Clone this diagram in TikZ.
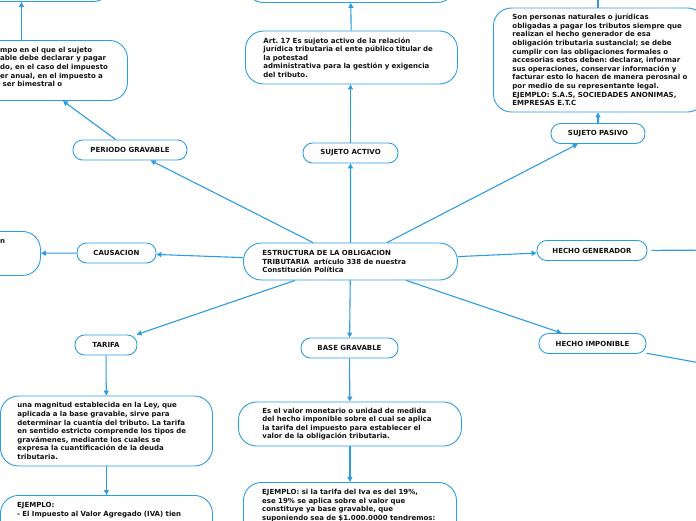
\documentclass[tikz,border=0pt]{standalone}
\usepackage{fontspec}
\setmainfont{DejaVu Sans}
\usetikzlibrary{arrows.meta}
\definecolor{lblue}{HTML}{2E9CE0}
\definecolor{ink}{HTML}{121212}
\newcommand\lsk[1]{\leftskip=#1pt\relax}
\frenchspacing
\begin{document}
\begin{tikzpicture}[x=1pt,y=-1pt,
  every node/.style={font=\fontsize{7}{8.6}\selectfont\bfseries\frenchspacing, text=ink},
  pill/.style={draw=lblue, line width=0.9pt, rounded corners=9.5pt, minimum height=20pt, inner sep=0pt},
  tbox/.style={draw=lblue, line width=0.9pt, rounded corners=18pt, align=left, inner xsep=0pt, inner ysep=0pt},
  ebox/.style={draw=lblue, line width=0.9pt, rounded corners=18pt, inner sep=0pt, anchor=north west},
  txt/.style={align=left, inner sep=0pt, anchor=base west, text width=200pt},
  conn/.style={draw=lblue, line width=1.1pt, -{Triangle[length=5pt,width=5pt]}},
  plain/.style={draw=lblue, line width=1.1pt},
]
\useasboundingbox (0,0) rectangle (696,520);
\clip (0,0) rectangle (696,520);

% central node
\node[tbox, text width=214pt, minimum height=37pt, anchor=west] (ctr) at (243,261.5)
  {\lsk{19}ESTRUCTURA DE LA OBLIGACION\\TRIBUTARIA\ \ artículo 338 de nuestra\\Constitución Política\par};

% labels
\node[pill, minimum width=114pt] (pg) at (130,150) {PERIODO GRAVABLE};
\node[pill, minimum width=95pt] (sa) at (350.5,153) {SUJETO ACTIVO};
\node[pill, minimum width=94pt] (sp) at (598,133.5) {SUJETO PASIVO};
\node[pill, minimum width=79pt] (caus) at (116.5,253) {CAUSACION};
\node[pill, minimum width=110pt] (hg) at (592,250.5) {HECHO GENERADOR};
\node[pill, minimum width=62pt] (tar) at (106,345) {TARIFA};
\node[pill, minimum width=97pt] (bg) at (349.5,348) {BASE GRAVABLE};
\node[pill, minimum width=107pt] (hi) at (592.5,343.5) {HECHO IMPONIBLE};

% text boxes
\node[tbox, text width=212pt, minimum height=53pt, anchor=west] (satx) at (245,57.5)
  {\lsk{18}Art. 17 Es sujeto activo de la relación\\jurídica tributaria el ente público titular de\\la potestad\\administrativa para la gestión y exigencia\\del tributo.\par};
\node[tbox, text width=212pt, minimum height=104pt, anchor=west] (sptx) at (493,60)
  {\lsk{19}Son personas naturales o jurídicas\\obligadas a pagar los tributos siempre que\\realizan el hecho generador de esa\\obligación tributaria sustancial; se debe\\cumplir con las obligaciones formales o\\accesorias estos deben: declarar, informar\\sus operaciones, conservar información y\\facturar esto lo hacen de manera perosnal o\\por medio de su representante legal.\\EJEMPLO: S.A.S, SOCIEDADES ANONIMAS,\\EMPRESAS E.T.C\par};
\node[tbox, text width=212pt, minimum height=70pt, anchor=west] (tartx) at (0,431)
  {\lsk{17}una magnitud establecida en la Ley, que\\aplicada a la base gravable, sirve para\\determinar la cuantía del tributo. La tarifa\\en sentido estricto comprende los tipos de\\gravámenes, mediante los cuales se\\expresa la cuantificación de la deuda\\tributaria.\par};
\node[tbox, text width=223pt, minimum height=44pt, anchor=west] (bgtx) at (238,424)
  {\lsk{24}Es el valor monetario o unidad de medida\\del hecho imponible sobre el cual se aplica\\la tarifa del impuesto para establecer el\\valor de la obligación tributaria.\par};

% partly visible boxes
\node[ebox, minimum width=212pt, minimum height=60pt] (pbox) at (-85,40) {};
\node[txt] (ptxt) at (0,52.3) {mpo en el que el sujeto\\able debe declarar y pagar\\do, en el caso del impuesto\\er anual, en el impuesto a\\\hspace*{2.5pt}ser bimestral o};
\node[ebox, minimum width=212pt, minimum height=44pt] (ctx) at (-172,231) {};
\node[txt] (ctxt) at (0,243.3) {n};
\node[ebox, minimum width=212pt, minimum height=80pt] (tarex) at (0,495) {};
\node[txt] (tarext) at (17,507.5) {EJEMPLO:\\- El Impuesto al Valor Agregado (IVA) tien};
\node[ebox, minimum width=213pt, minimum height=80pt] (bgex) at (243,482) {};
\node[txt] (bgext) at (262,494.5) {EJEMPLO: si la tarifa del Iva es del 19\%,\\ese 19\% se aplica sobre el valor que\\constituye ya base gravable, que\\suponiendo sea de \$1.000.0000 tendremos:};
\node[ebox, minimum width=180pt, minimum height=61pt] (tlbox) at (-69,-60) {};
\node[ebox, minimum width=210pt, minimum height=60pt] (tcbox) at (245,-58) {};
\node[ebox, minimum width=212pt, minimum height=62pt] (trbox) at (493,-70) {};
\coordinate (hgout) at (760,250);
\coordinate (hiout) at (800,381);

% connectors
\draw[conn] (ctr) -- (pg);
\draw[conn] (ctr) -- (sa);
\draw[conn] (ctr) -- (sp);
\draw[conn] (ctr) -- (caus);
\draw[conn] (ctr) -- (hg);
\draw[conn] (ctr) -- (hi);
\draw[conn] (ctr) -- (tar);
\draw[conn] (ctr) -- (bg);
\draw[conn] (pg) -- (pbox);
\draw[conn] (pbox) -- (tlbox);
\draw[conn] (sa) -- (sa.north |- satx.south);
\draw[conn] (satx) -- (tcbox);
\draw[conn] (sp) -- (sp.north |- sptx.south);
\draw[conn] (sp.north |- sptx.north) -- (sp.north |- trbox.south);
\draw[conn] (caus) -- (ctx);
\draw[plain, shorten <=4pt] (hg) -- (hgout);
\draw[plain] (hi) -- (hiout);
\draw[conn] (tar) -- (tartx);
\draw[conn] (tartx) -- (tarex);
\draw[conn] (bg) -- (bgtx);
\draw[conn] (bgtx) -- (bgex);
\end{tikzpicture}
\end{document}
